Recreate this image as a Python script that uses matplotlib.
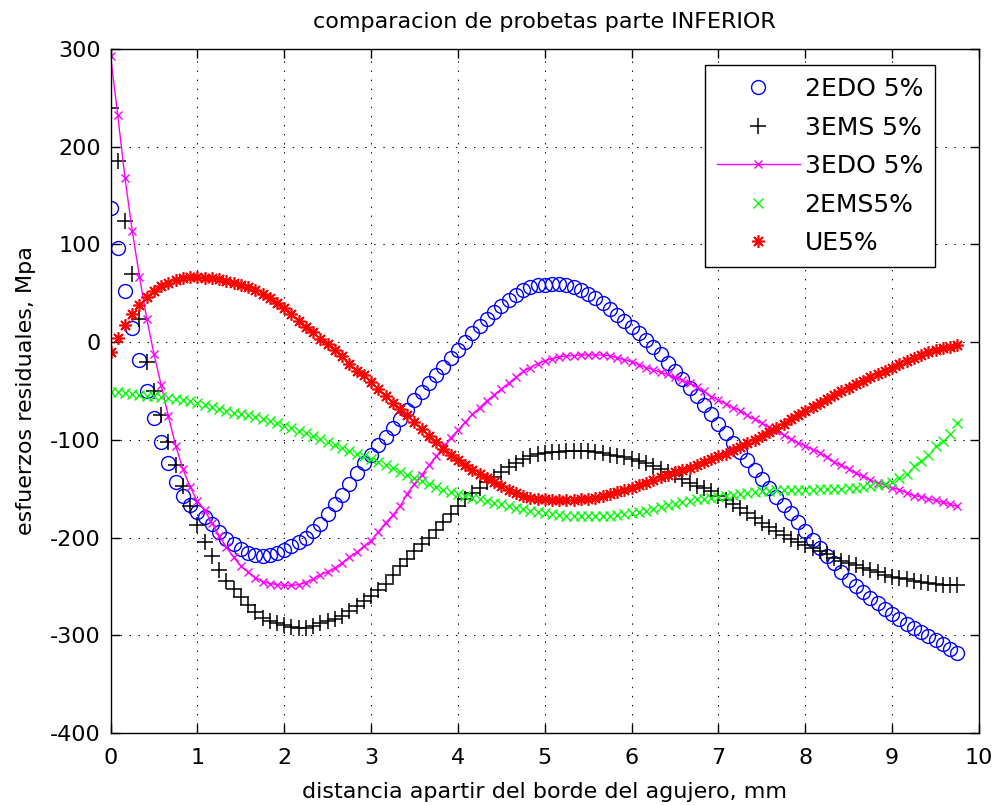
# coding=utf-8
"""
comparacion de probetas parte INFERIOR - esfuerzos residuales vs distancia al borde del agujero
"""
import matplotlib

matplotlib.use('Agg')
import matplotlib.pyplot as plt
import numpy as np

# distancia desde el borde del agujero (mm), paso 1/12 mm, 118 puntos
dist = np.arange(118) / 12.0

# esfuerzos residuales (MPa), 12 valores por mm
s_2edo = [137, 96, 52, 15, -18, -50, -78, -102, -124, -143, -157, -167,
          -174, -179, -186, -194, -201, -207, -212, -216, -218, -219, -218, -216,
          -213, -209, -205, -200, -193, -186, -176, -166, -156, -145, -134, -124,
          -115, -105, -97, -88, -79, -69, -59, -51, -42, -34, -25, -16,
          -8, 0, 9, 17, 24, 31, 37, 43, 48, 53, 56, 58,
          59, 60, 60, 59, 56, 53, 49, 45, 40, 34, 28, 22,
          16, 9, 2, -5, -12, -21, -30, -38, -47, -55, -64, -74,
          -84, -93, -103, -112, -121, -131, -140, -149, -158, -167, -175, -184,
          -193, -202, -211, -219, -226, -235, -243, -250, -256, -262, -267, -273,
          -278, -283, -288, -293, -297, -301, -305, -309, -314, -318]
s_3ems = [240, 185, 124, 70, 24, -20, -50, -75, -102, -126, -147, -168,
          -187, -204, -219, -233, -244, -253, -261, -269, -276, -282, -285, -287,
          -289, -291, -292, -292, -290, -287, -285, -283, -280, -275, -270, -265,
          -260, -254, -247, -238, -229, -222, -214, -207, -200, -192, -184, -176,
          -168, -161, -154, -149, -143, -138, -133, -128, -124, -120, -116, -114,
          -113, -112, -112, -111, -111, -111, -111, -112, -113, -115, -116, -118,
          -120, -122, -124, -127, -130, -133, -136, -140, -144, -147, -149, -152,
          -157, -162, -166, -170, -175, -180, -185, -189, -193, -197, -201, -205,
          -208, -211, -214, -217, -221, -224, -226, -228, -231, -233, -235, -238,
          -240, -241, -242, -244, -245, -246, -247, -248, -249, -249]
s_3edo = [293, 232, 168, 114, 67, 24, -12, -44, -76, -106, -130, -148,
          -163, -172, -185, -198, -210, -220, -229, -235, -241, -245, -247, -248,
          -249, -249, -248, -246, -242, -238, -235, -231, -226, -220, -215, -209,
          -203, -194, -185, -177, -168, -155, -145, -136, -126, -117, -107, -98,
          -90, -82, -74, -67, -60, -54, -48, -42, -36, -30, -26, -22,
          -19, -17, -15, -14, -14, -13, -13, -13, -13, -14, -16, -18,
          -20, -23, -26, -28, -31, -33, -36, -39, -42, -46, -50, -56,
          -59, -63, -67, -70, -75, -79, -83, -87, -91, -95, -99, -103,
          -106, -110, -113, -118, -123, -126, -130, -134, -137, -141, -144, -146,
          -149, -151, -154, -157, -158, -160, -162, -164, -166, -168]
s_2ems = [-51, -51, -52, -53, -54, -55, -55, -56, -57, -58, -59, -60,
          -62, -64, -66, -68, -70, -72, -73, -75, -77, -79, -81, -83,
          -86, -88, -91, -93, -96, -99, -102, -105, -108, -111, -114, -117,
          -120, -123, -126, -129, -133, -136, -139, -142, -145, -148, -151, -153,
          -155, -157, -159, -161, -163, -165, -166, -168, -170, -171, -173, -174,
          -175, -176, -177, -178, -178, -178, -178, -178, -178, -178, -177, -176,
          -175, -174, -173, -171, -169, -167, -166, -164, -163, -161, -160, -159,
          -158, -157, -156, -155, -154, -153, -152, -152, -151, -151, -151, -151,
          -151, -151, -150, -150, -150, -150, -149, -149, -148, -147, -146, -145,
          -143, -139, -135, -127, -122, -115, -106, -101, -94, -83]
s_ue = [-10, 4, 18, 29, 38, 46, 52, 57, 61, 64, 66, 67,
        67, 66, 66, 65, 63, 61, 59, 56, 53, 49, 45, 40,
        35, 29, 22, 16, 10, 3, -2, -8, -14, -22, -29, -34,
        -41, -48, -55, -62, -68, -75, -82, -89, -96, -102, -109, -115,
        -121, -126, -131, -135, -139, -143, -147, -151, -154, -157, -159, -160,
        -161, -162, -162, -162, -162, -161, -160, -159, -157, -155, -153, -151,
        -149, -146, -144, -141, -138, -136, -133, -131, -129, -126, -123, -120,
        -117, -114, -110, -107, -103, -100, -96, -92, -88, -84, -79, -75,
        -70, -66, -62, -58, -54, -50, -47, -43, -40, -36, -33, -29,
        -26, -22, -19, -16, -13, -10, -8, -6, -5, -3]

labels = ['2EDO 5%', '3EMS 5%', '3EDO 5%', '2EMS5%', 'UE5%']
x_ticks = list(range(0, 11))
y_ticks = list(range(-400, 301, 100))

if __name__ == '__main__':
    plt.rcParams['font.family'] = 'DejaVu Sans'
    plt.rcParams['font.size'] = 16
    plt.rcParams['axes.unicode_minus'] = False

    fig = plt.figure(figsize=(9.94, 8.05), dpi=100)
    ax = fig.add_axes([0.1112, 0.0894, 0.8737, 0.8497])

    ax.plot(dist, s_2edo, linestyle='none', marker='o', markersize=10, mfc='none', mec=(0, 0, 1),
            mew=1.0, label=labels[0])
    ax.plot(dist, s_3ems, linestyle='none', marker='+', markersize=11, color='k', mew=1.1, label=labels[1])
    ax.plot(dist, s_3edo, linestyle='-', linewidth=1.0, marker='x', markersize=6, color=(1, 0, 1),
            mew=1.0, label=labels[2])
    ax.plot(dist, s_2ems, linestyle='none', marker='x', markersize=6.5, color=(0, 1, 0), mew=1.0,
            label=labels[3])
    ax.plot(dist, s_ue, linestyle='none', marker=(8, 2, 0), markersize=9, color=(1, 0, 0), mew=1.2,
            label=labels[4])

    ax.set_xlim(0, 10)
    ax.set_ylim(-400, 300)
    ax.set_xticks(x_ticks)
    ax.set_yticks(y_ticks)
    ax.grid(True, color='k', linestyle=(0, (1.3, 7.4)), linewidth=0.75)
    ax.tick_params(direction='in', length=6.5, width=1, top=True, right=True, colors='k',
                   labelsize=16)
    ax.tick_params(axis='x', pad=11)
    ax.tick_params(axis='y', pad=7)
    for sp in ax.spines.values():
        sp.set_linewidth(1.0)
        sp.set_color('k')

    ax.set_title('comparacion de probetas parte INFERIOR', fontsize=16, pad=15)
    ax.set_xlabel('distancia apartir del borde del agujero, mm', fontsize=16, labelpad=10)
    ax.set_ylabel('esfuerzos residuales, Mpa', fontsize=16, labelpad=10)

    leg = ax.legend(loc='upper right', bbox_to_anchor=(0.9493, 0.9766), borderaxespad=0,
                    fontsize=18, handlelength=3.3, handletextpad=0.2, labelspacing=0.58,
                    borderpad=0.48, fancybox=False, framealpha=1, edgecolor='k', numpoints=1)
    leg.get_frame().set_linewidth(1.0)

    plt.savefig('out.png', dpi=100)
    plt.close('all')
